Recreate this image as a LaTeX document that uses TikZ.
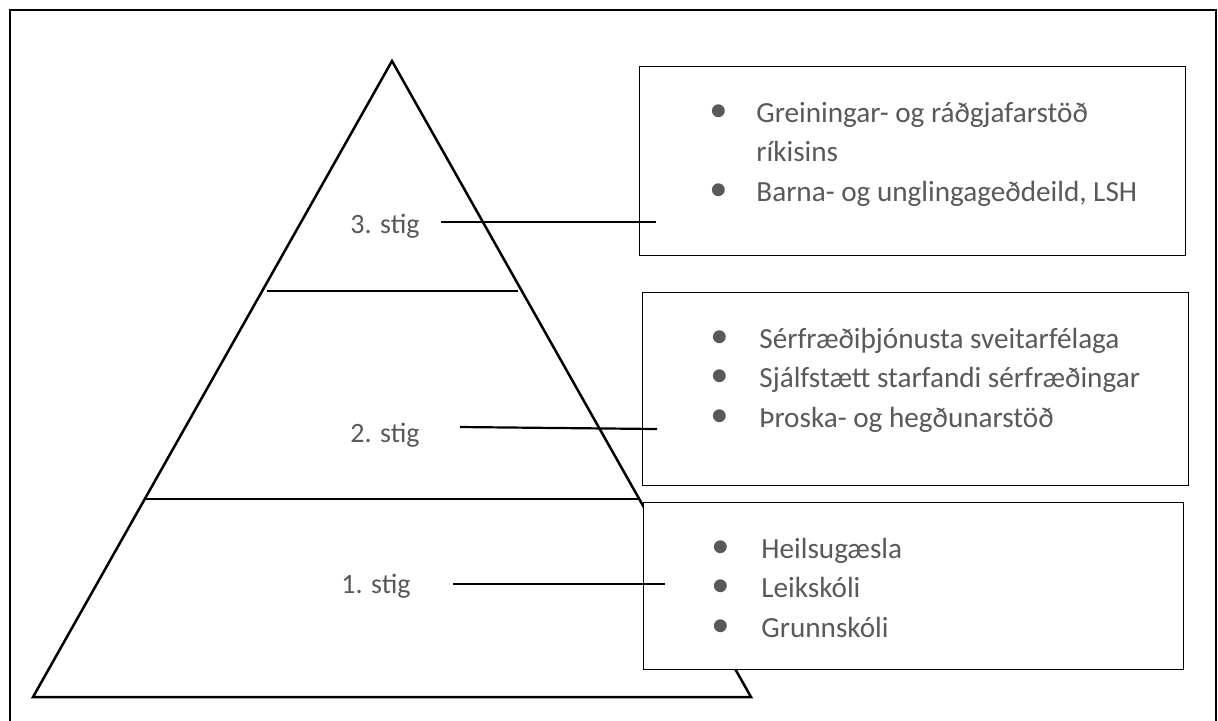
\documentclass[tikz,border=0pt]{standalone}
\usepackage{fontspec}
\setmainfont{Carlito}
\usetikzlibrary{positioning}
\definecolor{Ink}{HTML}{595959}
\newcommand{\dotmark}{\raisebox{0.5pt}{\scalebox{1.25}{\textbullet}}}

\begin{document}
\begin{tikzpicture}[x=0.5pt,y=-0.5pt,
    level/.style={font=\fontsize{14}{19.5}\selectfont,text=Ink,inner sep=0pt,anchor=base west},
    items/.style={level,font=\fontsize{14.6}{19.75}\selectfont},
    box/.style={draw,fill=white,line width=0.65pt,anchor=north west,inner sep=0pt},
    link/.style={line width=1.1pt},
    cut/.style={line width=0.7pt}
  ]
  \clip (0,0) rectangle (1218,720);
  \draw[line width=1pt] (10,10) rectangle (1216,740);
  % pyramid
  \draw[line width=1.25pt] (392,61) -- (751,697) -- (33,697) -- cycle;
  \draw[cut] (267,291) -- (518,291);
  \draw[cut] (145,499) -- (640,499);
  \node[level] (t3) at (350,233) {3. stig};
  \node[level] (t2) at (350,442) {2. stig};
  \node[level] (t1) at (341,593) {1. stig};
  % boxes
  \node[box,minimum width=273pt,minimum height=94.5pt] (b3) at (639,66) {};
  \node[box,minimum width=273pt,minimum height=96.5pt] (b2) at (642,292) {};
  \node[box,minimum width=270pt,minimum height=83.5pt] (b1) at (643,502) {};
  \node[items] (l3) at (709,122) {\begin{tabular}[t]{@{}p{23.5pt}@{}l@{}}
      \dotmark & Greiningar- og ráðgjafarstöð\\
      & ríkisins\\
      \dotmark & Barna- og unglingageðdeild, LSH\end{tabular}};
  \node[items] (l2) at (710,348) {\begin{tabular}[t]{@{}p{24.5pt}@{}l@{}}
      \dotmark & Sérfræðiþjónusta sveitarfélaga\\
      \dotmark & Sjálfstætt starfandi sérfræðingar\\
      \dotmark & Þroska- og hegðunarstöð\end{tabular}};
  \node[items] (l1) at (711,558) {\begin{tabular}[t]{@{}p{25pt}@{}l@{}}
      \dotmark & Heilsugæsla\\
      \dotmark & Leikskóli\\
      \dotmark & Grunnskóli\end{tabular}};
  % links
  \coordinate (s3) at (441,222);
  \coordinate (e3) at (656,222);
  \coordinate (s2) at (460,427);
  \coordinate (e2) at (657,429);
  \coordinate (s1) at (453,584);
  \coordinate (e1) at (665,584);
  \draw[link] (s3) -- (e3);
  \draw[link] (s2) -- (e2);
  \draw[link] (s1) -- (e1);
\end{tikzpicture}
\end{document}
